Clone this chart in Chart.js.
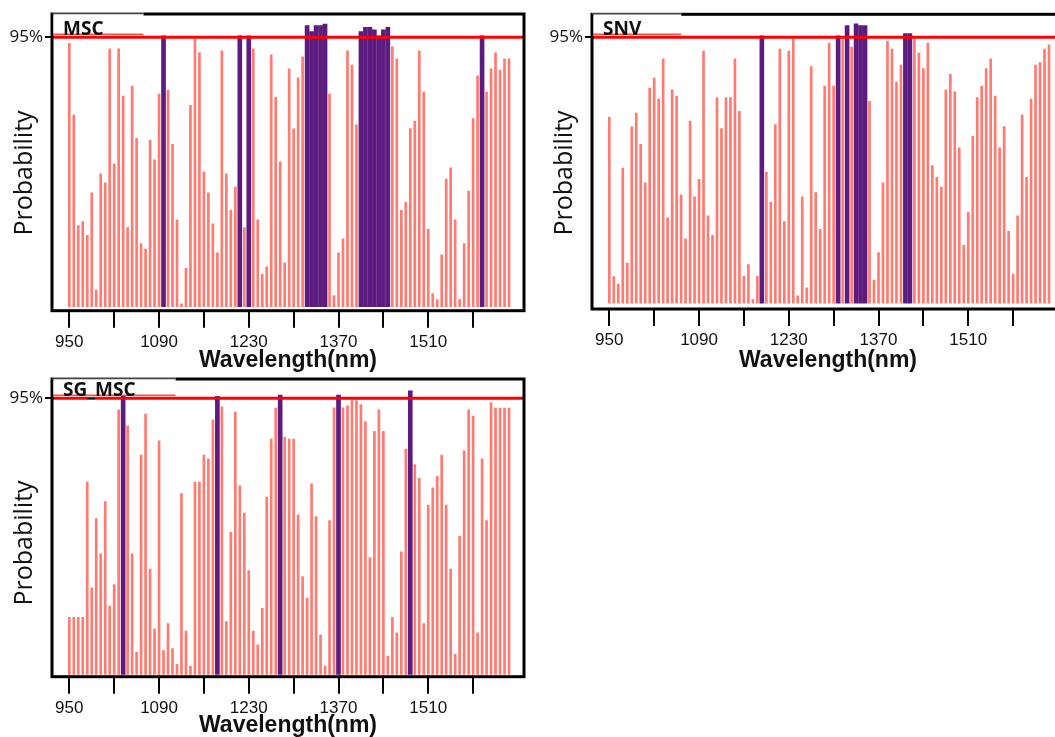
<!DOCTYPE html>
<html>
<head>
<meta charset="utf-8">
<script src="https://cdn.jsdelivr.net/npm/chart.js@4.4.0/dist/chart.umd.min.js"></script>
<style>
  html, body { margin: 0; padding: 0; background: #fff; overflow: hidden; }
  body { width: 1055px; height: 737px; position: relative; }
  canvas { position: absolute; }
</style>
</head>
<body>
<canvas id="msc" width="540" height="372" style="left:0;top:0"></canvas>
<canvas id="snv" width="540" height="372" style="left:540px;top:0"></canvas>
<canvas id="sgmsc" width="540" height="372" style="left:0;top:365px"></canvas>
<script>
// wavelength of every variable (nm)
const wavelengths = [
  950, 957, 964, 971, 978, 985, 992, 999, 1006, 1013,
  1020, 1027, 1034, 1041, 1048, 1055, 1062, 1069, 1076, 1083,
  1090, 1097, 1104, 1111, 1118, 1125, 1132, 1139, 1146, 1153,
  1160, 1167, 1174, 1181, 1188, 1195, 1202, 1209, 1216, 1223,
  1230, 1237, 1244, 1251, 1258, 1265, 1272, 1279, 1286, 1293,
  1300, 1307, 1314, 1321, 1328, 1335, 1342, 1349, 1356, 1363,
  1370, 1377, 1384, 1391, 1398, 1405, 1412, 1419, 1426, 1433,
  1440, 1447, 1454, 1461, 1468, 1475, 1482, 1489, 1496, 1503,
  1510, 1517, 1524, 1531, 1538, 1545, 1552, 1559, 1566, 1573,
  1580, 1587, 1594, 1601, 1608, 1615, 1622, 1629, 1636
];

// selection probability per variable, one list per pretreatment
const mscProb = [
  0.929, 0.676, 0.286, 0.300, 0.252, 0.402, 0.059, 0.469, 0.437, 0.909,
  0.504, 0.909, 0.743, 0.279, 0.778, 0.594, 0.223, 0.203, 0.587, 0.518,
  0.750, 0.955, 0.764, 0.573, 0.306, 0.010, 0.135, 0.710, 0.943, 0.896,
  0.475, 0.402, 0.292, 0.190, 0.902, 0.469, 0.340, 0.422, 0.955, 0.279,
  0.955, 0.909, 0.306, 0.114, 0.141, 0.888, 0.738, 0.511, 0.155, 0.839,
  0.627, 0.807, 0.881, 0.991, 0.970, 0.991, 0.991, 0.997, 0.750, 0.039,
  0.190, 0.239, 0.902, 0.852, 0.641, 0.970, 0.985, 0.985, 0.976, 0.955,
  0.976, 0.985, 0.916, 0.874, 0.340, 0.368, 0.628, 0.655, 0.902, 0.757,
  0.273, 0.046, 0.025, 0.183, 0.450, 0.490, 0.306, 0.025, 0.223, 0.408,
  0.663, 0.814, 0.955, 0.757, 0.839, 0.895, 0.834, 0.874, 0.874
];
const snvProb = [
  0.664, 0.095, 0.069, 0.483, 0.144, 0.630, 0.679, 0.568, 0.430, 0.769,
  0.804, 0.729, 0.873, 0.305, 0.762, 0.740, 0.387, 0.230, 0.651, 0.380,
  0.443, 0.901, 0.312, 0.243, 0.735, 0.624, 0.735, 0.735, 0.873, 0.686,
  0.096, 0.138, 0.013, 0.096, 0.955, 0.469, 0.361, 0.638, 0.908, 0.292,
  0.901, 0.943, 0.027, 0.380, 0.055, 0.845, 0.395, 0.264, 0.776, 0.929,
  0.776, 0.955, 0.943, 0.992, 0.915, 0.998, 0.992, 0.992, 0.721, 0.083,
  0.181, 0.430, 0.936, 0.908, 0.790, 0.851, 0.963, 0.963, 0.943, 0.894,
  0.838, 0.929, 0.492, 0.450, 0.415, 0.762, 0.818, 0.755, 0.555, 0.207,
  0.326, 0.596, 0.735, 0.776, 0.838, 0.873, 0.740, 0.555, 0.631, 0.257,
  0.104, 0.312, 0.673, 0.450, 0.729, 0.851, 0.860, 0.908, 0.923
];
const sgMscProb = [
  0.197, 0.197, 0.197, 0.197, 0.662, 0.298, 0.536, 0.415, 0.595, 0.235,
  0.309, 0.910, 0.957, 0.855, 0.415, 0.076, 0.755, 0.896, 0.363, 0.156,
  0.804, 0.082, 0.175, 0.089, 0.035, 0.622, 0.149, 0.029, 0.662, 0.662,
  0.755, 0.742, 0.876, 0.957, 0.921, 0.182, 0.489, 0.903, 0.649, 0.555,
  0.357, 0.149, 0.102, 0.228, 0.610, 0.810, 0.916, 0.961, 0.817, 0.810,
  0.810, 0.549, 0.337, 0.263, 0.656, 0.543, 0.136, 0.029, 0.529, 0.917,
  0.961, 0.917, 0.924, 0.944, 0.942, 0.928, 0.869, 0.402, 0.836, 0.910,
  0.836, 0.063, 0.197, 0.143, 0.422, 0.775, 0.976, 0.722, 0.675, 0.175,
  0.583, 0.642, 0.682, 0.755, 0.583, 0.363, 0.069, 0.475, 0.769, 0.910,
  0.889, 0.143, 0.742, 0.529, 0.935, 0.916, 0.916, 0.916, 0.916
];

const xTicks = [950, 1020, 1090, 1160, 1230, 1300, 1370, 1440, 1510, 1580];
const xTickLabels = ['950', '', '1090', '', '1230', '', '1370', '', '1510', ''];
const cutoff = 0.95;
const cutoffLabel = '95%';

const X_MIN = 923;
const X_MAX = 1659.4;
const SALMON = 'rgb(255,122,112)';
const PURPLE = '#5c1b7e';
const CANVAS_W = 540;
const CANVAS_H = 372;
const AREA_LEFT = 52;
const AREA_RIGHT = 524;

// box round the plot, name tab in the corner, rotated y title
const panelFrame = {
  id: 'panelFrame',
  afterDatasetsDraw(chart, args, opts) {
    const { ctx, chartArea: a } = chart;
    const redY = chart.scales.y.getPixelForValue(cutoff);
    ctx.save();
    ctx.strokeStyle = '#000';
    ctx.lineWidth = 3;
    ctx.strokeRect(a.left, a.top, a.right - a.left, a.bottom - a.top);

    ctx.font = 'bold 19px "Open Sans"';
    const textX = a.left + 11;
    const tabRight = textX + ctx.measureText(opts.title).width + 40;
    ctx.fillStyle = '#fff';
    ctx.fillRect(a.left + 1.5, a.top - 1.5, tabRight - a.left - 1.5, redY - 4 - a.top + 1.5);
    ctx.strokeStyle = '#444';
    ctx.lineWidth = 1.5;
    ctx.beginPath();
    ctx.moveTo(a.left, a.top - 0.5);
    ctx.lineTo(tabRight, a.top - 0.5);
    ctx.stroke();
    ctx.strokeStyle = 'rgba(255,30,30,0.8)';
    ctx.beginPath();
    ctx.moveTo(a.left + 1.5, redY - 3);
    ctx.lineTo(tabRight, redY - 3);
    ctx.stroke();
    ctx.fillStyle = '#111';
    ctx.textBaseline = 'alphabetic';
    ctx.fillText(opts.title, textX, redY - 2.5);

    ctx.translate(32, opts.labelY);
    ctx.rotate(-Math.PI / 2);
    ctx.font = '25px "Open Sans"';
    ctx.textAlign = 'center';
    ctx.fillText('Probability', 0, 0);
    ctx.restore();
  }
};

function makePanel(id, title, probs, geo) {
  const low = [];
  const high = [];
  probs.forEach((p, i) => (p >= cutoff ? high : low).push({ x: wavelengths[i], y: p }));

  return new Chart(document.getElementById(id), {
    type: 'bar',
    data: {
      datasets: [
        {
          type: 'line',
          data: [{ x: X_MIN, y: cutoff }, { x: X_MAX, y: cutoff }],
          borderColor: '#ff0000',
          borderWidth: 3,
          pointRadius: 0,
          order: 0
        },
        { data: high, backgroundColor: PURPLE, barThickness: 4, grouped: false, order: 1 },
        { data: low, backgroundColor: SALMON, barThickness: 2, grouped: false, order: 2 }
      ]
    },
    options: {
      responsive: false,
      animation: false,
      devicePixelRatio: 1,
      layout: { padding: { left: 0, top: geo.top, right: CANVAS_W - AREA_RIGHT, bottom: 0 } },
      plugins: {
        legend: { display: false },
        tooltip: { enabled: false },
        panelFrame: { title: title, labelY: geo.labelY }
      },
      scales: {
        x: {
          type: 'linear',
          min: X_MIN,
          max: X_MAX,
          offset: false,
          afterBuildTicks: (scale) => { scale.ticks = xTicks.map(v => ({ value: v })); },
          afterFit: (scale) => { scale.height = CANVAS_H - geo.bottom; },
          ticks: {
            autoSkip: false,
            maxRotation: 0,
            padding: 4,
            color: '#111',
            font: { family: '"Liberation Sans", Arial', size: 17 },
            callback: (value) => xTickLabels[xTicks.indexOf(value)]
          },
          grid: { drawOnChartArea: false, offset: false, tickLength: 17, lineWidth: 2, tickColor: '#000' },
          border: { display: false },
          title: {
            display: true,
            text: 'Wavelength(nm)',
            color: '#111',
            font: { family: '"Liberation Sans", Arial', size: 23, weight: 'bold', lineHeight: 1 },
            padding: 0
          }
        },
        y: {
          type: 'linear',
          min: geo.yMin,
          max: geo.yMax,
          afterBuildTicks: (scale) => { scale.ticks = [{ value: cutoff }]; },
          afterFit: (scale) => { scale.width = AREA_LEFT; },
          ticks: {
            padding: 2,
            color: '#111',
            font: { family: '"Open Sans"', size: 17 },
            callback: () => cutoffLabel
          },
          grid: { drawOnChartArea: false, tickLength: 7, lineWidth: 2, tickColor: '#000' },
          border: { display: false }
        }
      }
    },
    plugins: [panelFrame]
  });
}

makePanel('msc', 'MSC', mscProb, { top: 14, bottom: 310.7, yMin: -0.0141, yMax: 1.0322, labelY: 173 });
makePanel('snv', 'SNV', snvProb, { top: 14.3, bottom: 309, yMin: -0.0204, yMax: 1.0321, labelY: 173 });
makePanel('sgmsc', 'SG_MSC', sgMscProb, { top: 14, bottom: 311.7, yMin: -0.0076, yMax: 1.0164, labelY: 178 });
</script>
</body>
</html>
